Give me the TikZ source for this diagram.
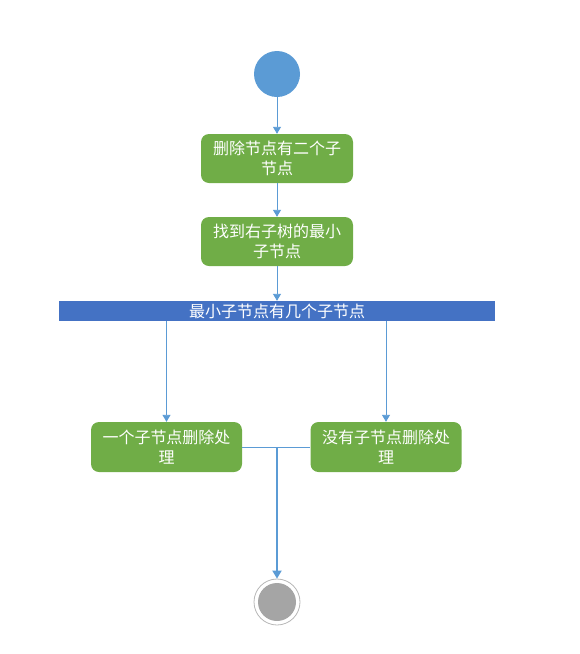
\documentclass[tikz,border=0pt]{standalone}
\usepackage{fontspec}
\newfontfamily\cjk{Noto Sans CJK SC}
\usetikzlibrary{arrows.meta}
\definecolor{actgreen}{HTML}{70AD47}
\definecolor{startblue}{HTML}{5B9BD5}
\definecolor{barblue}{HTML}{4472C4}
\definecolor{linkblue}{HTML}{5B9BD5}
\definecolor{endgray}{HTML}{A5A5A5}
\tikzset{
  act/.style={rounded corners=8pt, fill=actgreen, text=white, minimum width=152pt, minimum height=49pt, align=center, inner sep=0pt, font=\cjk\fontsize{16}{19.5}\selectfont},
  flow/.style={draw=linkblue, line width=0.9pt, -{Triangle[length=7pt,width=8pt]}},
  bigflow/.style={draw=linkblue, line width=1.8pt, -{Triangle[length=8pt,width=9pt]}},
  plainlink/.style={draw=linkblue, line width=0.9pt},
}
\begin{document}
\begin{tikzpicture}[x=1pt,y=-1pt]
\useasboundingbox (0,0) rectangle (579,654);
\node[circle, fill=startblue, minimum size=46pt, inner sep=0pt] (start) at (277,74) {};
\node[act] (box1) at (277,158.5) {删除节点有二个子\\节点};
\node[act] (box2) at (277,241.5) {找到右子树的最小\\子节点};
\node[fill=barblue, text=white, minimum width=436pt, minimum height=20pt, inner sep=0pt, font=\cjk\fontsize{16}{19.5}\selectfont] (bar) at (277,311) {最小子节点有几个子节点};
\node[act, minimum width=151pt, minimum height=50pt] (box3) at (166.5,447) {一个子节点删除处\\理};
\node[act, minimum width=151pt, minimum height=50pt] (box4) at (386,447) {没有子节点删除处\\理};
\node[circle, draw=endgray!80, line width=0.8pt, minimum size=46pt, inner sep=0pt] (end) at (277,602) {};
\fill[endgray] (end.center) circle (19pt);
\draw[flow] (start) -- (box1);
\draw[flow] (box1) -- (box2);
\draw[flow] (box2) -- (bar);
\draw[flow] (bar.south -| box3) -- (box3.north);
\draw[flow] (bar.south -| box4) -- (box4.north);
\draw[plainlink] (box3.east) -- (box4.west);
\draw[bigflow] (box3.east -| end) -- (end.north);
\end{tikzpicture}
\end{document}
